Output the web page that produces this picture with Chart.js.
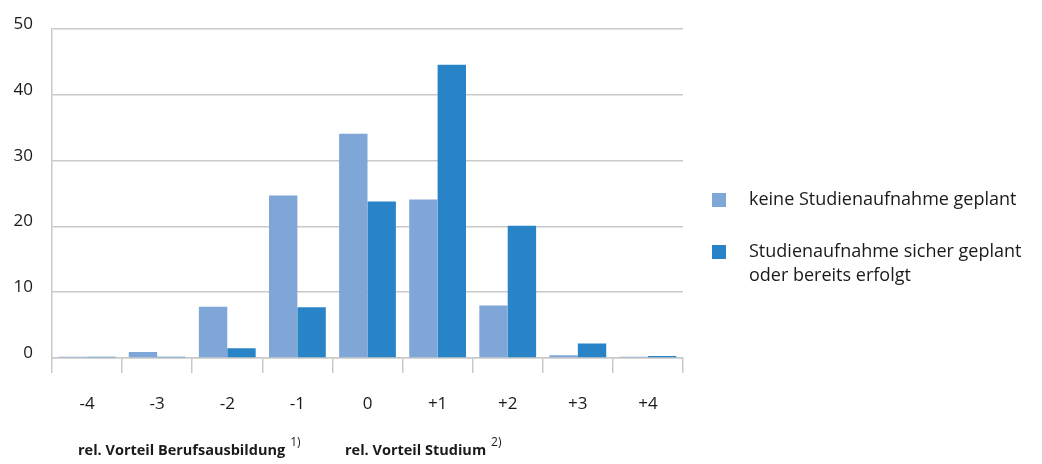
<!DOCTYPE html>
<html lang="de">
<head>
<meta charset="utf-8">
<script src="https://cdn.jsdelivr.net/npm/chart.js@4/dist/chart.umd.min.js"></script>
<style>
  html, body { margin: 0; padding: 0; background: #ffffff; }
  #wrap { width: 1042px; height: 464px; position: relative; }
</style>
</head>
<body>
<div id="wrap"><canvas id="c" width="1042" height="464"></canvas></div>
<script>
// Relative Vorteile: -4 (Berufsausbildung) … +4 (Studium), Anteile in %
const categories = ['-4', '-3', '-2', '-1', '0', '+1', '+2', '+3', '+4'];
const keineStudienaufnahme = [0.2, 0.9, 7.8, 24.7, 34.1, 24.1, 8.0, 0.4, 0.2];
const studienaufnahmeGeplant = [0.2, 0.2, 1.5, 7.7, 23.8, 44.6, 20.1, 2.2, 0.3];
const yTicks = [0, 10, 20, 30, 40, 50];

const seriesNames = [
  ['keine Studienaufnahme geplant'],
  ['Studienaufnahme sicher geplant', 'oder bereits erfolgt']
];
const axisTitles = [
  { text: 'rel. Vorteil Berufsausbildung', note: '1)' },
  { text: 'rel. Vorteil Studium', note: '2)' }
];

const colorLight = '#7ea7d8';
const colorDark = '#2983c7';
const gridColor = '#c9c9c9';
const FONT = '"Open Sans", "Noto Sans", sans-serif';
const textColor = '#1a1a1a';

// Legend and axis captions drawn beside the plot
const sidePlugin = {
  id: 'sideText',
  afterDraw(chart) {
    const ctx = chart.ctx;
    ctx.save();
    ctx.fillStyle = textColor;
    ctx.textBaseline = 'middle';
    ctx.textAlign = 'left';

    // legend
    const legendRows = [200, 252];
    chart.data.datasets.forEach((ds, i) => {
      const y = legendRows[i];
      ctx.fillStyle = ds.backgroundColor;
      ctx.fillRect(712, y - 7, 14, 14);
      ctx.fillStyle = textColor;
      ctx.font = '18px ' + FONT;
      seriesNames[i].forEach((line, j) => {
        ctx.fillText(line, 749, y + j * 24);
      });
    });

    // axis captions
    const starts = [78, 345];
    axisTitles.forEach((t, i) => {
      ctx.font = 'bold 14.5px ' + FONT;
      ctx.fillText(t.text, starts[i], 451);
      const w = ctx.measureText(t.text).width;
      ctx.font = '12px ' + FONT;
      ctx.fillText(t.note, starts[i] + w + 5, 443);
    });
    ctx.restore();
  }
};

new Chart(document.getElementById('c'), {
  type: 'bar',
  data: {
    labels: categories,
    datasets: [
      { label: seriesNames[0].join(' '), data: keineStudienaufnahme, backgroundColor: colorLight },
      { label: seriesNames[1].join(' '), data: studienaufnahmeGeplant, backgroundColor: colorDark }
    ]
  },
  options: {
    responsive: false,
    animation: false,
    devicePixelRatio: 1,
    layout: { padding: { left: 0, right: 359, top: 28, bottom: 0 } },
    datasets: {
      bar: { categoryPercentage: 0.81, barPercentage: 1.0, borderWidth: 0 }
    },
    plugins: {
      legend: { display: false },
      tooltip: { enabled: false }
    },
    scales: {
      x: {
        offset: true,
        grid: {
          offset: true,
          drawOnChartArea: false,
          drawTicks: true,
          tickLength: 15,
          color: gridColor,
          lineWidth: 1.5
        },
        border: { display: true, color: gridColor, width: 1.5 },
        ticks: {
          color: textColor,
          font: { family: FONT, size: 17 },
          padding: 21,
          maxRotation: 0
        },
        afterFit(scale) { scale.height = 106; }
      },
      y: {
        min: 0,
        max: 50,
        afterBuildTicks(scale) { scale.ticks = yTicks.map(v => ({ value: v })); },
        grid: {
          drawTicks: false,
          color: gridColor,
          lineWidth: 1.5
        },
        border: { display: true, color: gridColor, width: 1.5 },
        ticks: {
          color: textColor,
          font: { family: FONT, size: 17 },
          padding: 19,
          labelOffset: -5
        },
        afterFit(scale) { scale.width = 52; }
      }
    }
  },
  plugins: [sidePlugin]
});
</script>
</body>
</html>
